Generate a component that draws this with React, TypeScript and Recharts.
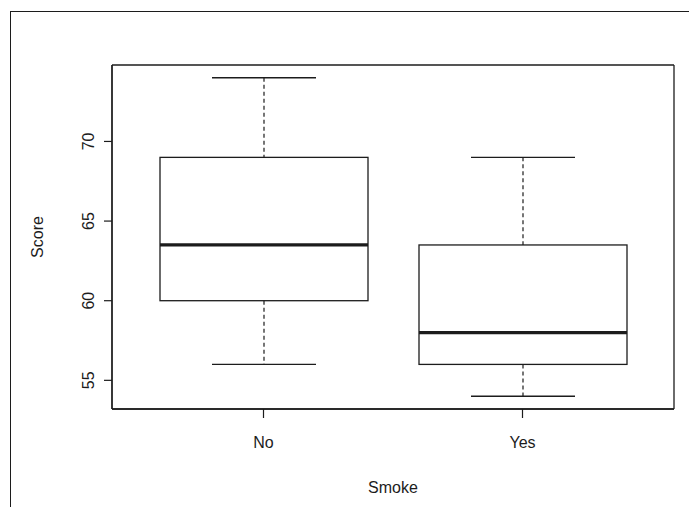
import { ComposedChart, Bar, XAxis, YAxis, CartesianGrid } from 'recharts';

// boxplot of Score by Smoke
const groups = ['No', 'Yes'];
const whiskerLow = [56, 54];
const lowerQuartile = [60, 56];
const medians = [63.5, 58];
const upperQuartile = [69, 63.5];
const whiskerHigh = [74, 69];
const yTicks = [55, 60, 65, 70];

const rows = groups.map((g, i) => ({
  group: g,
  range: [whiskerLow[i], whiskerHigh[i]],
  low: whiskerLow[i],
  q1: lowerQuartile[i],
  median: medians[i],
  q3: upperQuartile[i],
  high: whiskerHigh[i],
}));

const ink = '#1c1c1c';
const font = '"Liberation Sans", Arial, Helvetica, sans-serif';

const BoxShape = (props: any) => {
  const { x, y, width, height, payload } = props;
  const top = Math.min(y, y + height);
  const h = Math.abs(height);
  const bottom = top + h;
  const span = payload.high - payload.low;
  const py = (v: number) => bottom - ((v - payload.low) / span) * h;
  const cx = x + width / 2;
  const cap = width / 4;
  return (
    <g stroke={ink} fill="none">
      <line x1={cx} x2={cx} y1={py(payload.high)} y2={py(payload.q3)} strokeDasharray="4 3" strokeWidth={1.2} />
      <line x1={cx} x2={cx} y1={py(payload.q1)} y2={py(payload.low)} strokeDasharray="4 3" strokeWidth={1.2} />
      <line x1={cx - cap} x2={cx + cap} y1={py(payload.high)} y2={py(payload.high)} strokeWidth={1.3} />
      <line x1={cx - cap} x2={cx + cap} y1={py(payload.low)} y2={py(payload.low)} strokeWidth={1.3} />
      <rect x={x} y={py(payload.q3)} width={width} height={py(payload.q1) - py(payload.q3)} strokeWidth={1.3} />
      <line x1={x} x2={x + width} y1={py(payload.median)} y2={py(payload.median)} strokeWidth={3.2} />
    </g>
  );
};

const YTick = (props: any) => {
  const { x, y, payload } = props;
  return (
    <text
      x={x}
      y={y}
      transform={`rotate(-90, ${x}, ${y})`}
      textAnchor="middle"
      dominantBaseline="central"
      fontSize={16}
      fontFamily={font}
      fill={ink}
    >
      {payload.value}
    </text>
  );
};

const XTick = (props: any) => {
  const { x, y, payload } = props;
  return (
    <text x={x} y={y} textAnchor="middle" dominantBaseline="central" fontSize={16} fontFamily={font} fill={ink}>
      {payload.value}
    </text>
  );
};

export default function App() {
  return (
    <div style={{ position: 'absolute', left: 0, top: 0, width: 689, height: 507, background: '#fff' }}>
      <div
        style={{
          position: 'absolute',
          left: 10,
          top: 11,
          width: 679,
          height: 496,
          borderLeft: `1px solid ${ink}`,
          borderTop: `1px solid ${ink}`,
          boxSizing: 'border-box',
        }}
      />
      <div style={{ position: 'absolute', left: 0, top: 0 }}>
        <ComposedChart width={689} height={507} data={rows} margin={{ top: 65, right: 15, bottom: 0, left: 0 }}>
          {/* plot frame, like R's box() */}
          <CartesianGrid
            stroke={ink}
            strokeWidth={1.3}
            horizontalCoordinatesGenerator={({ offset }: any) => [offset.top, offset.top + offset.height]}
            verticalCoordinatesGenerator={({ offset }: any) => [offset.left, offset.left + offset.width]}
          />
          <XAxis
            dataKey="group"
            type="category"
            height={98}
            padding={{ left: 22, right: 22 }}
            axisLine={{ stroke: ink, strokeWidth: 1.3 }}
            tickLine={{ stroke: ink, strokeWidth: 1.2 }}
            tickSize={9}
            tickMargin={24}
            tick={<XTick />}
            label={{
              content: (p: any) => (
                <text
                  x={p.viewBox.x + p.viewBox.width / 2}
                  y={487}
                  textAnchor="middle"
                  dominantBaseline="central"
                  fontSize={16}
                  fontFamily={font}
                  fill={ink}
                >
                  Smoke
                </text>
              ),
            }}
          />
          <YAxis
            type="number"
            domain={[53.2, 74.8]}
            allowDataOverflow
            ticks={yTicks}
            width={112}
            axisLine={{ stroke: ink, strokeWidth: 1.3 }}
            tickLine={{ stroke: ink, strokeWidth: 1.2 }}
            tickSize={8}
            tickMargin={15}
            tick={<YTick />}
            label={{
              content: (p: any) => {
                const cy = p.viewBox.y + p.viewBox.height / 2;
                return (
                  <text
                    x={37}
                    y={cy}
                    transform={`rotate(-90, 37, ${cy})`}
                    textAnchor="middle"
                    dominantBaseline="central"
                    fontSize={16}
                    fontFamily={font}
                    fill={ink}
                  >
                    Score
                  </text>
                );
              },
            }}
          />
          <Bar dataKey="range" barSize={208} shape={<BoxShape />} isAnimationActive={false} />
        </ComposedChart>
      </div>
    </div>
  );
}
